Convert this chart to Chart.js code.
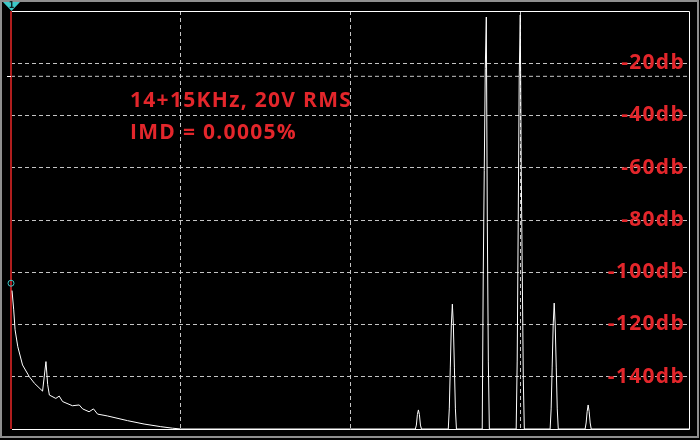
<!DOCTYPE html>
<html>
<head>
<meta charset="utf-8">
<script src="https://cdn.jsdelivr.net/npm/chart.js@4.4.0/dist/chart.umd.min.js"></script>
<style>
  html, body { margin: 0; padding: 0; background: #000; overflow: hidden; }
  canvas { display: block; }
</style>
</head>
<body>
<canvas id="spectrum" width="700" height="440"></canvas>
<script>
// spectrum trace, [kHz, db]
const lowEnd = [[0.03,-107],[0.08,-114.4],[0.12,-122],[0.2,-128.5],[0.34,-135.5],[0.54,-140],[0.69,-142.5],[0.93,-145.5],[1.03,-134.2],[1.08,-143],[1.13,-147],[1.32,-148.3],[1.42,-147.4],[1.52,-149.5],[1.81,-151.1],[2.01,-150.8],[2.11,-152.3],[2.30,-153.4],[2.43,-152.3],[2.55,-154.3],[2.84,-155],[3.43,-156.8],[3.92,-158.1],[4.41,-159.1],[4.76,-159.7],[5.0,-160]];
const peak12k = [[11.91,-160],[11.94,-158.5],[11.97,-154.5],[12.0,-152.7],[12.03,-154.5],[12.06,-158.5],[12.09,-160]];
const peak13k = [[12.88,-160],[12.91,-152.3],[12.94,-136.3],[12.97,-120.2],[13.0,-112.2],[13.03,-120.2],[13.06,-136.3],[13.09,-152.3],[13.12,-160]];
const peak14k = [[13.88,-160],[13.91,-101],[13.94,-61],[13.97,-22],[14.0,-2.3],[14.03,-81],[14.06,-134],[14.09,-160]];
const peak15k = [[14.88,-160],[14.91,-134],[14.94,-81],[14.97,-25],[15.0,-1.5],[15.03,-62],[15.06,-101],[15.09,-141],[15.12,-160]];
const peak16k = [[15.88,-160],[15.91,-152.3],[15.94,-136.3],[15.97,-120.2],[16.0,-111.8],[16.03,-120.2],[16.06,-136.3],[16.09,-152.3],[16.12,-160]];
const peak17k = [[16.91,-160],[16.94,-157.7],[16.97,-153.4],[17.0,-150.8],[17.03,-153.4],[17.06,-157.7],[17.09,-160]];
const highEnd = [[20,-160]];

const markerPoint = [[0.0, -104.2]];
const markerLine = [[0, 0], [0, -160]];
const refLevel = [[0, -25], [20, -25]];

const yTicks = [-20, -40, -60, -80, -100, -120, -140];
const noteLines = ['14+15KHz, 20V RMS', 'IMD = 0.0005%'];

const RED = '#e3262b';
const GRID = '#c4c4c4';
const LABEL_FONT = 'bold 21px "Open Sans"';

const toPts = arr => arr.map(p => ({ x: p[0], y: p[1] }));
const trace = toPts([].concat(lowEnd, peak12k, peak13k, peak14k, peak15k, peak16k, peak17k, highEnd));

const scopeFrame = {
    id: 'scopeFrame',
    beforeDraw: (chart) => {
        const ctx = chart.ctx;
        ctx.fillStyle = '#000';
        ctx.fillRect(0, 0, chart.width, chart.height);
        ctx.strokeStyle = '#8e8e8e';
        ctx.lineWidth = 2;
        ctx.strokeRect(1, 1, 697, 436);
        // wide letter spacing for the tick labels too
        ctx.letterSpacing = '1.3px';
    },
    afterDraw: (chart) => {
        const ctx = chart.ctx;
        const a = chart.chartArea;
        const xs = chart.scales.x, ys = chart.scales.y;
        ctx.save();
        // white frame top / right / bottom
        ctx.strokeStyle = '#fff';
        ctx.lineWidth = 1;
        ctx.beginPath();
        ctx.moveTo(a.left + 1, a.top + 0.5);
        ctx.lineTo(a.right - 0.5, a.top + 0.5);
        ctx.lineTo(a.right - 0.5, a.bottom + 0.5);
        ctx.lineTo(a.left + 1, a.bottom + 0.5);
        ctx.stroke();
        // ref level tick at the left
        const ry = Math.round(ys.getPixelForValue(refLevel[0][1])) + 0.5;
        ctx.beginPath();
        ctx.moveTo(a.left - 4, ry);
        ctx.lineTo(a.left, ry);
        ctx.stroke();
        // marker flag
        const mx = xs.getPixelForValue(markerLine[0][0]) + 0.5;
        ctx.fillStyle = '#3cc8c8';
        ctx.beginPath();
        ctx.moveTo(mx - 8.5, 2);
        ctx.lineTo(mx + 8.5, 2);
        ctx.lineTo(mx, a.top);
        ctx.closePath();
        ctx.fill();
        ctx.fillStyle = '#102020';
        ctx.letterSpacing = '0px';
        ctx.font = 'bold 8px "DejaVu Sans"';
        ctx.textAlign = 'center';
        ctx.textBaseline = 'middle';
        ctx.fillText('1', mx, 5.5);
        // annotation
        ctx.fillStyle = RED;
        ctx.font = LABEL_FONT;
        ctx.letterSpacing = '1.3px';
        ctx.textAlign = 'left';
        ctx.textBaseline = 'alphabetic';
        ctx.fillText(noteLines[0], 130, 106.5);
        ctx.fillText(noteLines[1], 130, 138.5);
        ctx.restore();
    }
};

const edgeless = (min, max) => (c) =>
    (c.tick && (c.tick.value === min || c.tick.value === max)) ? 'rgba(0,0,0,0)' : GRID;

new Chart(document.getElementById('spectrum').getContext('2d'), {
    type: 'line',
    data: {
        datasets: [
            {
                data: trace,
                borderColor: '#ffffff',
                borderWidth: 1,
                pointRadius: 0,
                tension: 0,
                order: 1,
            },
            {
                data: toPts(refLevel),
                borderColor: GRID,
                borderWidth: 1,
                borderDash: [4, 3],
                pointRadius: 0,
                order: 3,
            },
            {
                data: toPts(markerLine),
                borderColor: '#b01e1e',
                borderWidth: 2,
                pointRadius: 0,
                clip: 4,
                order: 2,
            },
            {
                data: toPts(markerPoint),
                showLine: false,
                pointRadius: 3,
                pointBorderWidth: 1,
                pointBorderColor: '#3cc8c8',
                pointBackgroundColor: 'rgba(0,0,0,0)',
                clip: false,
                order: 0,
            }
        ]
    },
    options: {
        responsive: false,
        animation: false,
        layout: {
            padding: { left: 11, right: 10, top: 11, bottom: 11 }
        },
        plugins: {
            legend: { display: false },
            tooltip: { enabled: false }
        },
        scales: {
            x: {
                type: 'linear',
                min: 0,
                max: 20,
                ticks: { display: false, stepSize: 5 },
                grid: { color: edgeless(0, 20), drawTicks: false, lineWidth: 1 },
                border: { display: false, dash: [4, 3] },
                afterFit: (s) => { s.height = 0; s.paddingLeft = 0; s.paddingRight = 0; }
            },
            y: {
                type: 'linear',
                position: 'right',
                min: -160,
                max: 0,
                afterBuildTicks: (scale) => {
                    scale.ticks = [0].concat(yTicks, [-160]).map(v => ({ value: v }));
                },
                ticks: {
                    mirror: true,
                    padding: -5,
                    color: RED,
                    font: { family: 'Open Sans', size: 21, weight: 'bold' },
                    callback: (v) => yTicks.includes(v) ? v + 'db' : ''
                },
                grid: { color: edgeless(-160, 0), drawTicks: false, lineWidth: 1 },
                border: { display: false, dash: [4, 3] },
                afterFit: (s) => { s.width = 0; s.paddingTop = 0; s.paddingBottom = 0; }
            }
        }
    },
    plugins: [scopeFrame]
});
</script>
</body>
</html>
